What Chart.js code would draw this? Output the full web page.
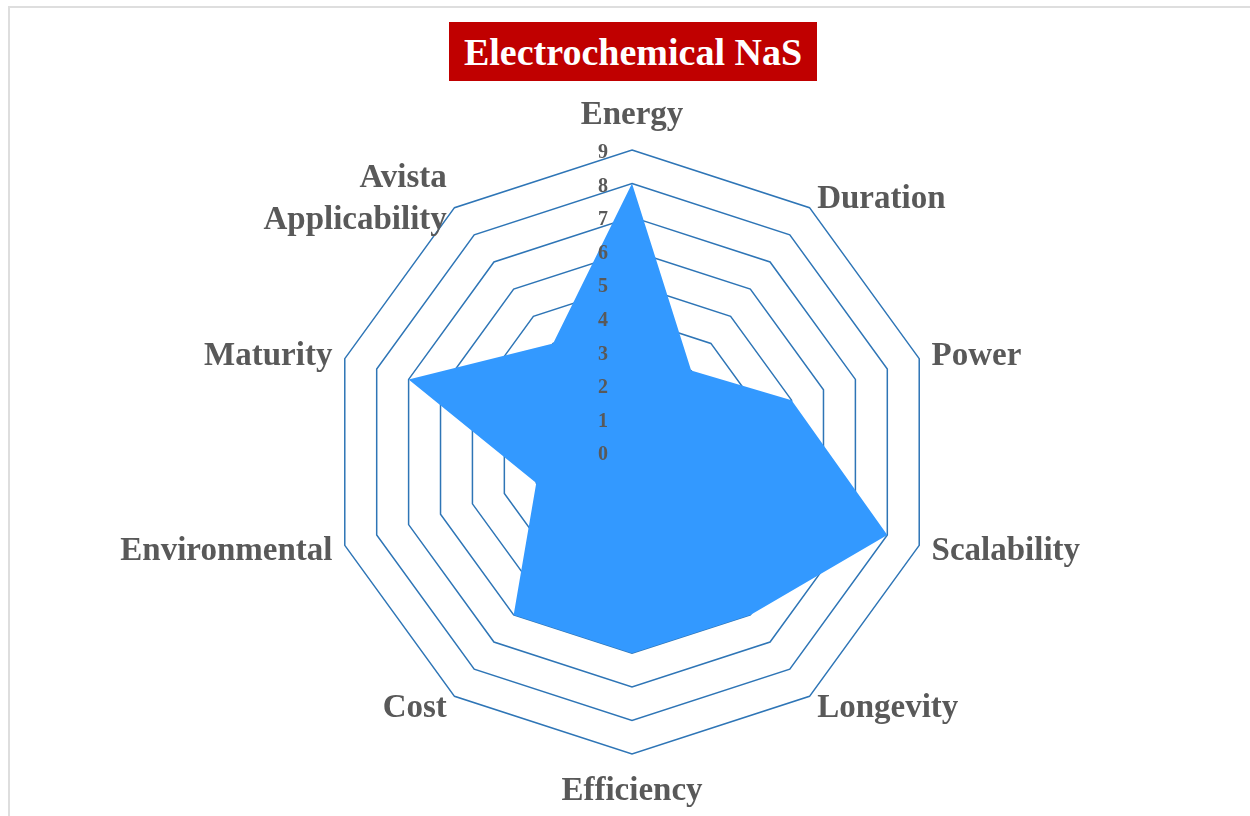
<!DOCTYPE html>
<html>
<head>
<meta charset="utf-8">
<script src="https://cdn.jsdelivr.net/npm/chart.js@4.4.1/dist/chart.umd.min.js"></script>
<style>
  html, body { margin: 0; padding: 0; background: #fff; overflow: hidden; }
  #wrap { position: relative; width: 1250px; height: 816px; }
  #frame { position: absolute; left: 8px; top: 6px; width: 1400px; height: 1000px;
           border: 2px solid #dedede; pointer-events: none; }
  #title { position: absolute; left: 449px; top: 22px; width: 368px; height: 59px;
           background: #c00000; color: #fff; text-align: center;
           font: bold 38px "Liberation Serif", serif; line-height: 60px; }
  canvas { position: absolute; left: 0; top: 0; }
</style>
</head>
<body>
<div id="wrap">
  <div id="frame"></div>
  <canvas id="radar" width="1250" height="816"></canvas>
  <div id="title">Electrochemical NaS</div>
</div>
<script>
const categories = ['Energy', 'Duration', 'Power', 'Scalability', 'Longevity',
    'Efficiency', 'Cost', 'Environmental', 'Maturity', ['Avista', 'Applicability']];
const nasScores = [8, 3, 5, 8, 6, 6, 6, 3, 7, 4];
const tickValues = [0, 1, 2, 3, 4, 5, 6, 7, 8, 9];

const labelFont = 'bold 33px "Liberation Serif", serif';
const tickFont = 'bold 20px "Liberation Serif", serif';
const textGray = '#595959';

// draws point labels and tick numbers the way the office chart lays them out
const radarText = {
    id: 'radarText',
    afterDraw(chart) {
        const scale = chart.scales.r;
        const ctx = chart.ctx;
        ctx.save();
        ctx.fillStyle = textGray;

        ctx.font = labelFont;
        const lineH = 42;
        categories.forEach((label, i) => {
            const pos = scale.getPointPosition(i, scale.drawingArea + 13);
            const deg = Math.round(i * 360 / categories.length);
            const lines = Array.isArray(label) ? label : [label];
            let align = 'left';
            if (deg === 0 || deg === 180) align = 'center';
            else if (deg > 180) align = 'right';
            ctx.textAlign = align;
            let y0;
            if (deg === 0) y0 = pos.y - 22 - (lines.length - 1) * lineH;
            else if (deg === 180) y0 = pos.y + 24;
            else y0 = pos.y + 2 - (lines.length - 1) * lineH / 2;
            ctx.textBaseline = 'middle';
            lines.forEach((t, k) => ctx.fillText(t, pos.x, y0 + k * lineH));
        });

        ctx.font = tickFont;
        ctx.textAlign = 'center';
        ctx.textBaseline = 'middle';
        tickValues.forEach(v => {
            const d = scale.getDistanceFromCenterForValue(v);
            ctx.fillText(String(v), scale.xCenter - 29, scale.yCenter - d + 3);
        });
        ctx.restore();
    }
};

new Chart(document.getElementById('radar'), {
    type: 'radar',
    data: {
        labels: categories,
        datasets: [{
            label: 'Electrochemical NaS',
            data: nasScores,
            backgroundColor: '#3399ff',
            borderWidth: 0,
            pointRadius: 0,
            fill: true
        }]
    },
    options: {
        responsive: false,
        animation: false,
        layout: {
            padding: { top: 150, bottom: 62, left: 100, right: 86 }
        },
        plugins: {
            legend: { display: false },
            tooltip: { enabled: false }
        },
        scales: {
            r: {
                min: 0,
                max: 9,
                ticks: { stepSize: 1, display: false },
                angleLines: { display: false },
                grid: { color: '#2e75b6', lineWidth: 1.5 },
                pointLabels: { display: false }
            }
        }
    },
    plugins: [radarText]
});
</script>
</body>
</html>
